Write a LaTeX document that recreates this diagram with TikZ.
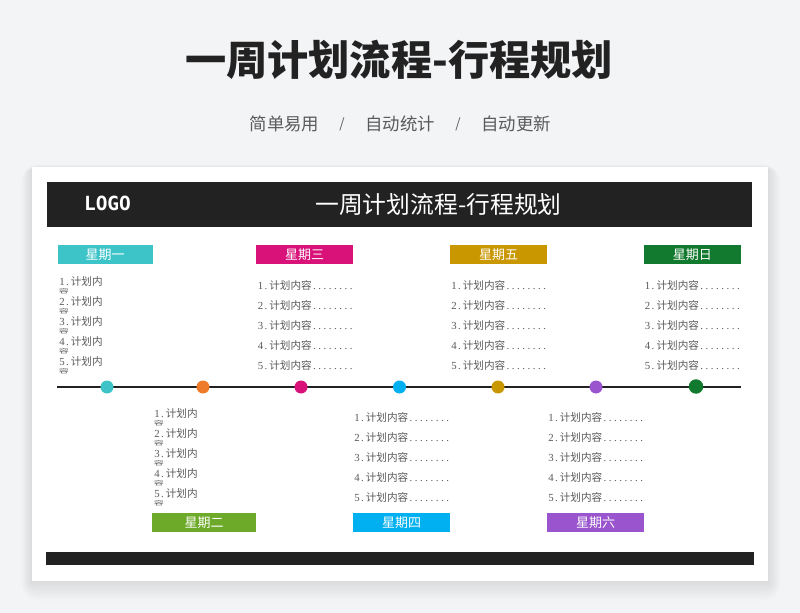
\documentclass[tikz,border=0pt]{standalone}
\usepackage{fontspec}
\usepackage{graphicx}
\setmainfont{Noto Sans CJK SC}
\newfontfamily\cjk{Noto Sans CJK SC}
\newfontfamily\numf{Liberation Serif}
\newfontfamily\logof{DejaVu Sans Mono}
\newcommand{\px}[1]{\fontsize{\fpeval{#1*0.75}pt}{\fpeval{#1*0.9}pt}\selectfont}
\definecolor{pagebg}{HTML}{F2F4F6}
\definecolor{ink}{HTML}{222222}
\definecolor{soft}{HTML}{5A5A5A}
\definecolor{cMon}{HTML}{3CC4C8}
\definecolor{cTue}{HTML}{6EAA2A}
\definecolor{cTueDot}{HTML}{EE7B2C}
\definecolor{cWed}{HTML}{D81279}
\definecolor{cThu}{HTML}{00B0F0}
\definecolor{cFri}{HTML}{C99700}
\definecolor{cSat}{HTML}{9A55CE}
\definecolor{cSun}{HTML}{127A2E}
\newcommand{\hw}[1]{\makebox[3.95pt][c]{#1}}
\newcommand{\numpart}[1]{{\numf\px{10.8}\makebox[4.05pt][c]{#1}\makebox[4.05pt][c]{.}}}
\newcommand{\itemline}[1]{\numpart{#1}\hspace{0.6pt}{\cjk\px{10.6}计划内容}{\numf\px{10.8}\hw{.}\hw{.}\hw{.}\hw{.}\hw{.}\hw{.}\hw{.}\hw{.}}}
\newcommand{\wrapline}[1]{\numpart{#1}\hspace{0.6pt}{\cjk\px{10.6}计划内}}
\tikzset{
  dayhead/.style={fill=#1,text=white,inner sep=0pt,font=\cjk\px{13},anchor=center},
  planline/.style={inner sep=0pt,anchor=west,text=soft},
  squash/.style={inner sep=0pt,anchor=center,text=soft},
  tick/.style={circle,fill=#1,draw=none,minimum size=13pt*0.75,inner sep=0pt},
  subt/.style={inner sep=0pt,text=soft,font=\cjk\px{17.4}},
  slashmark/.style={inner sep=0pt,text=soft,font=\cjk\px{13.5}},
  band/.style={fill=ink,draw=none}
}
\begin{document}
\begin{tikzpicture}[x=0.75pt,y=-0.75pt]
\useasboundingbox (0,0) rectangle (800,613);
\fill[pagebg] (0,0) rectangle (800,613);
% card shadow
\foreach \g in {18,16.5,15,13.5,12,10.5,9,7.5,6,4.5,3,1.5}{
  \fill[black,opacity=0.008,rounded corners=\g*0.75pt] (32-\g*0.6,167-\g*0.25+2) rectangle (768+\g*0.7,581+\g*1.1);
}
\fill[white] (32,167) rectangle (768,581);
% bands
\fill[band] (47,182) rectangle (752,227);
\fill[band] (46,552) rectangle (754,565);
% headings
\node[inner sep=0pt,text=ink,font=\cjk\bfseries\px{41.2}] (maintitle) at (399,60) {一周计划流程-行程规划};
\node[subt] (s1) at (284.5,124) {简单易用};
\node[slashmark] (sl1) at (342,124) {/};
\node[subt] (s2) at (400,124) {自动统计};
\node[slashmark] (sl2) at (458,124) {/};
\node[subt] (s3) at (516,124) {自动更新};
\node[inner sep=0pt,text=white,font=\logof\bfseries\px{19.5}] (logo) at (107.5,203) {LOGO};
\node[inner sep=0pt,text=white,font=\cjk\px{23.8}] (cardtitle) at (438.5,205) {一周计划流程-行程规划};
% timeline
\coordinate (tl) at (57,387);
\coordinate (tr) at (741,387);
\draw[ink,line width=1.6pt] (tl) -- (tr);
\node[tick=cMon] (d1) at (107,387) {};
\node[tick=cTueDot] (d2) at (203,387) {};
\node[tick=cWed] (d3) at (301,387) {};
\node[tick=cThu] (d4) at (399.5,387) {};
\node[tick=cFri] (d5) at (498,387) {};
\node[tick=cSat] (d6) at (596,387) {};
\node[tick=cSun,minimum size=14.5pt*0.75] (d7) at (696,386.5) {};
% day headers
\node[dayhead=cMon,minimum width=95*0.75pt,minimum height=19*0.75pt] (mon) at (105,254.5) {星期一};
\node[dayhead=cWed,minimum width=97*0.75pt,minimum height=19*0.75pt] (wed) at (304.5,254.5) {星期三};
\node[dayhead=cFri,minimum width=97*0.75pt,minimum height=19*0.75pt] (fri) at (498.5,254.5) {星期五};
\node[dayhead=cSun,minimum width=97*0.75pt,minimum height=19*0.75pt] (sun) at (692.3,254.5) {星期日};
\node[dayhead=cTue,minimum width=104*0.75pt,minimum height=19*0.75pt] (tue) at (204,522.5) {星期二};
\node[dayhead=cThu,minimum width=97*0.75pt,minimum height=19*0.75pt] (thu) at (401.5,522.5) {星期四};
\node[dayhead=cSat,minimum width=97*0.75pt,minimum height=19*0.75pt] (sat) at (595.5,522.5) {星期六};
% full lines
\foreach \n/\x/\y in {wedl/257.5/285, fril/451/285, sunl/644.7/285, thul/354/417, satl/548/417}{
  \foreach \i in {1,...,5}{
    \node[planline] (\n\i) at (\x,{\y+(\i-1)*20}) {\itemline{\i}};
  }
}
% wrapped lines
\foreach \n/\x/\y in {monl/59/281, tuel/154/413.5}{
  \foreach \i in {1,...,5}{
    \node[planline] (\n\i) at (\x,{\y+(\i-1)*20}) {\wrapline{\i}};
    \node[squash] (\n w\i) at ({\x+5},{\y+(\i-1)*20+10}) {\scalebox{0.95}[0.55]{\cjk\px{10.6}容}};
  }
}
\end{tikzpicture}
\end{document}
